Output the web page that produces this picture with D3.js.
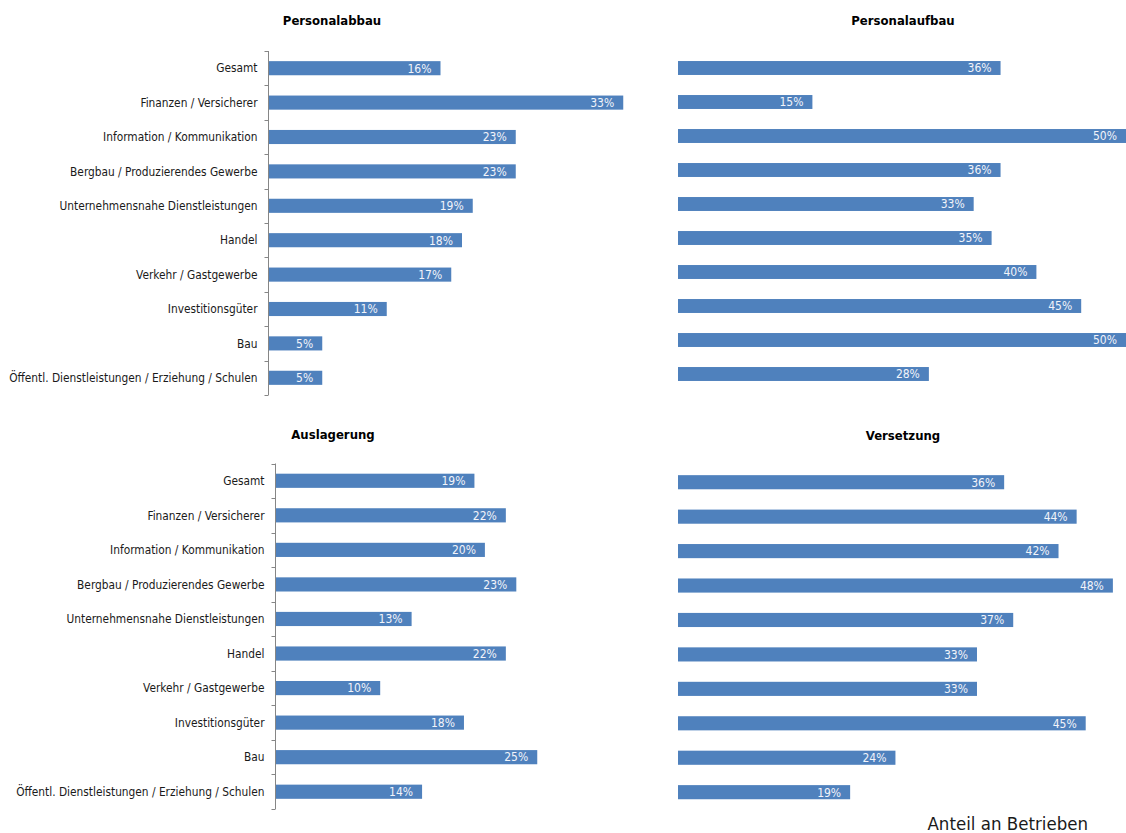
<!DOCTYPE html>
<html><head><meta charset="utf-8">
<script src="https://cdn.jsdelivr.net/npm/d3@7"></script>
<style>
body{margin:0;background:#fff;}
svg{display:block;font-family:"DejaVu Sans Condensed","Liberation Sans Narrow",sans-serif;}
</style></head>
<body><svg id="c" width="1126" height="833"></svg>
<script>
const categories = ["Gesamt","Finanzen / Versicherer","Information / Kommunikation","Bergbau / Produzierendes Gewerbe","Unternehmensnahe Dienstleistungen","Handel","Verkehr / Gastgewerbe","Investitionsgüter","Bau","Öffentl. Dienstleistungen / Erziehung / Schulen"];
const personalabbau = [16,33,23,23,19,18,17,11,5,5];
const personalaufbau = [36,15,50,36,33,35,40,45,50,28];
const auslagerung = [19,22,20,23,13,22,10,18,25,14];
const versetzung = [36,44,42,48,37,33,33,45,24,19];
const titles = ["Personalabbau","Personalaufbau","Auslagerung","Versetzung"];
const note = "Anteil an Betrieben";

const svg = d3.select("#c");
const panels = [
  {title:titles[0], values:personalabbau, x0:268.5, ppu:10.75, y:[51,395], axis:true, tx:332, ty:25},
  {title:titles[1], values:personalaufbau, x0:678, ppu:8.96, y:[51,391], axis:false, tx:903, ty:25},
  {title:titles[2], values:auslagerung, x0:275.5, ppu:10.47, y:[463.5,809], axis:true, tx:333, ty:439},
  {title:titles[3], values:versetzung, x0:678, ppu:9.06, y:[465,809.4], axis:false, tx:903, ty:440}
];
panels.forEach(p=>{
  const g = svg.append("g");
  const x = d3.scaleLinear().domain([0,50]).range([p.x0, p.x0+p.ppu*50]);
  const y = d3.scaleBand().domain(categories).range(p.y).paddingInner(0.59).paddingOuter(0.295);
  g.append("text").attr("x",p.tx).attr("y",p.ty).attr("text-anchor","middle")
    .attr("font-size",13).attr("font-weight","bold").attr("fill","#000").text(p.title);
  g.selectAll("rect").data(p.values).join("rect")
    .attr("x",x(0)).attr("y",(d,i)=>y(categories[i]))
    .attr("width",d=>x(d)-x(0)).attr("height",y.bandwidth())
    .attr("fill","#4F81BD");
  g.selectAll("text.v").data(p.values).join("text").attr("class","v")
    .attr("x",d=>x(d)-9).attr("y",(d,i)=>y(categories[i])+y.bandwidth()/2)
    .attr("dy","0.36em").attr("text-anchor","end").attr("font-size",12)
    .attr("fill","#f2f4fa").text(d=>d+"%");
  if(p.axis){
    const step = y.step();
    const ticks = d3.range(categories.length+1).map(i=>p.y[0]+i*step);
    g.append("line").attr("x1",p.x0).attr("x2",p.x0).attr("y1",p.y[0]).attr("y2",p.y[1]).attr("stroke","#868686");
    g.selectAll("line.t").data(ticks).join("line").attr("class","t")
      .attr("x1",p.x0-4).attr("x2",p.x0).attr("y1",d=>Math.round(d)+0.5).attr("y2",d=>Math.round(d)+0.5).attr("stroke","#868686");
    g.selectAll("text.c").data(categories).join("text").attr("class","c")
      .attr("x",p.x0-11).attr("y",d=>y(d)+y.bandwidth()/2).attr("dy","0.36em")
      .attr("text-anchor","end").attr("font-size",11.8).attr("fill","#1a1a1a").text(d=>d);
  }
});
svg.append("text").attr("x",1088).attr("y",830).attr("text-anchor","end")
  .attr("font-size",18.5).attr("fill","#1a1a1a").text(note);
</script></body></html>
